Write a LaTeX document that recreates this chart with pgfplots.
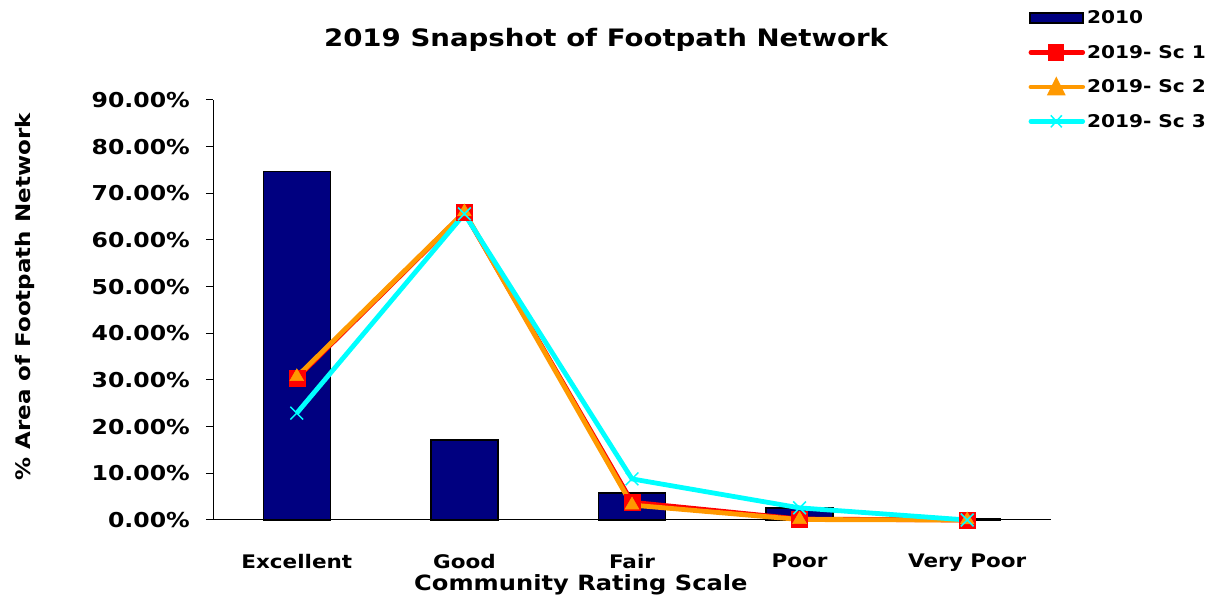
\documentclass[border=0pt]{standalone}
\usepackage{pgfplots}
\pgfplotsset{compat=1.18}
\usepackage{fontspec}
\setmainfont{DejaVu Sans}[FakeStretch=1.15]
\definecolor{navy}{RGB}{0,0,128}
\definecolor{orng}{RGB}{255,153,0}
\definecolor{cyn}{RGB}{0,255,255}
\begin{document}
\begin{tikzpicture}
\path[use as bounding box] (0,0) rectangle (1216pt,599pt);
\begin{axis}[
  at={(213pt,79pt)}, anchor=south west,
  scale only axis, width=838pt, height=420pt,
  xmin=-0.5, xmax=4.5, ymin=0, ymax=90,
  axis x line*=bottom, axis y line*=left,
  axis line style={line width=1pt},
  tick style={line width=1pt, black},
  tick align=outside,
  major tick length=7pt, minor tick length=7pt,
  xtick={0,1,2,3,4},
  xticklabels={Excellent,Good,Fair,Poor,Very Poor},
  x tick style={draw=none},
  minor xtick={-0.5,0.5,1.5,2.5,3.5,4.5},
  ytick={0,10,...,90},
  yticklabels={0.00\%,10.00\%,20.00\%,30.00\%,40.00\%,50.00\%,60.00\%,70.00\%,80.00\%,90.00\%},
  yticklabel style={font=\fontsize{20.5}{23}\selectfont\bfseries, inner sep=0pt, xshift=-16pt},
  xticklabel style={font=\fontsize{18.7}{22}\selectfont\bfseries, inner sep=0pt, yshift=-27pt},
  clip=false,
  legend style={at={(0.973,1.218)}, anchor=north west, draw=none, fill=none,
    font=\fontsize{17.5}{20}\selectfont\bfseries, row sep=16pt, inner sep=0pt,
    /tikz/every even column/.append style={column sep=4pt}},
  legend cell align=left,
]
\addplot[ybar, bar width=0.4, fill=navy, draw=black, line width=1.5pt,
  legend image code/.code={\draw[fill=navy,draw=black,line width=1.5pt] (0pt,-5pt) rectangle (53pt,5pt);}]
  coordinates {(0,74.7) (1,17.1) (2,5.8) (3,2.6) (4,0.3)};
\addlegendentry{2010}
\addplot[red, line width=4.8pt, mark=square*, mark size=8pt, mark options={solid, line width=0.5pt, fill=red},
  legend image code/.code={\draw[red,line width=4.5pt,line cap=round] (1pt,0pt) -- (53pt,0pt); \fill[red] (21pt,-6pt) rectangle (32pt,6pt);}]
  coordinates {(0,30.4) (1,65.9) (2,3.8) (3,0.2) (4,0)};
\addlegendentry{2019- Sc 1}
\addplot[orng, line width=4.8pt, mark=triangle*, mark size=8pt, mark options={solid, line width=0.5pt, fill=orng},
  legend image code/.code={\draw[orng,line width=4.5pt,line cap=round] (1pt,0pt) -- (53pt,0pt); \fill[orng] (21pt,-6pt) -- (32pt,-6pt) -- (26.5pt,5pt) -- cycle;}]
  coordinates {(0,30.7) (1,66.0) (2,3.2) (3,0.1) (4,0)};
\addlegendentry{2019- Sc 2}
\addplot[cyn, line width=4.8pt, mark=x, mark size=9pt, mark options={solid, line width=1.5pt},
  legend image code/.code={\draw[cyn,line width=4.5pt,line cap=round] (1pt,0pt) -- (53pt,0pt); \draw[cyn,line width=1.5pt] (21pt,-6pt) -- (32pt,6pt) (21pt,6pt) -- (32pt,-6pt);}]
  coordinates {(0,22.9) (1,65.6) (2,8.8) (3,2.6) (4,0)};
\addlegendentry{2019- Sc 3}
\node[font=\fontsize{24}{28}\selectfont\bfseries] at (rel axis cs:0.469,1.143) {2019 Snapshot of Footpath Network};
\node[font=\fontsize{21}{24}\selectfont\bfseries] at (rel axis cs:0.439,-0.155) {Community Rating Scale};
\node[font=\fontsize{20}{23}\selectfont\bfseries, rotate=90] at ([xshift=-188pt]rel axis cs:0,0.531) {\% Area of Footpath Network};
\end{axis}
\end{tikzpicture}
\end{document}
